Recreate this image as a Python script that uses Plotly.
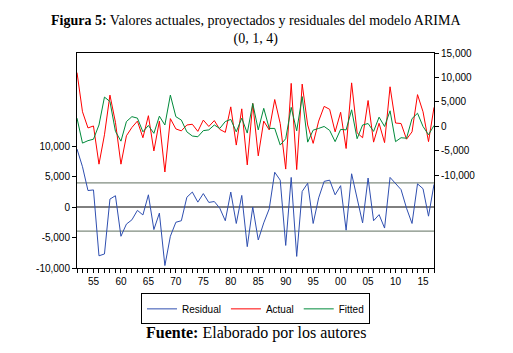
import plotly.graph_objects as go

years = list(range(1952, 2018))

residual = [9500, 6600, 2700, 2800, -8000, -7700, 1300, 1850, -4800, -2800,
            -2100, -550, -1300, 2000, -3700, -1000, -9600, -4800, -2500, -2250,
            1600, 2450, 800, 2200, 750, 900, -200, -2250, 2450, -2700,
            1900, -6500, 0, -5400, -2600, -300, 5700, 4400, -6300, 4850,
            -8100, 2550, 3900, -2700, 1500, 4200, 4400, 2000, 3500, -3800,
            5450, 1200, -2600, 4750, -2250, -1250, -3450, 4850, 3900, 2850,
            -200, -2700, 3800, 3000, -1500, 3700]

actual = [11000, 3000, -300, 100, -7700, -1700, 6400, 850, -7700, -1900,
          -200, 1100, -2300, 2200, -5000, 1100, -9300, 1600, -500, -900,
          300, 450, -1000, 1300, 0, 1200, -600, -1200, 4000, -3800,
          3600, -7850, 4700, -6000, 1100, -700, 5500, 600, -8700, 8800,
          -8800, 8650, 300, -3450, 1100, 4100, 3500, -1100, 2900, -4500,
          8900, -1300, -2300, 5300, -3200, 650, -3300, 8100, 700, 600,
          -2600, -1100, 6500, 3000, -3100, 3900]

fitted = [1700, -3400, -2900, -2600, 300, 6000, 5100, -1000, -3000, 1000,
          2000, 1700, -1100, 200, -1400, 2100, 300, 6400, 2000, 1300,
          -1100, -1950, -2100, -850, -700, 300, -400, 1000, 1450, -1100,
          1700, -1350, 4700, -700, 3700, -400, -400, -3800, -2500, 3900,
          -900, 6100, -3200, -750, -400, 0, -800, -3100, -600, -700,
          3400, -2500, 300, 600, -1000, 1900, 0, 3200, -3100, -2300,
          -2400, 1600, 2700, 0, -1700, 200]

resid_std = 3950

left_tickvals = [-10000, -5000, 0, 5000, 10000]
left_ticktext = ["-10,000", "-5,000", "0", "5,000", "10,000"]
right_tickvals = [-10000, -5000, 0, 5000, 10000, 15000]
right_ticktext = ["-10,000", "-5,000", "0", "5,000", "10,000", "15,000"]
x_ticktext = [str(y)[2:] if y % 5 == 0 else "" for y in years]

tick_font = dict(family="Liberation Sans, Arial, sans-serif", size=10, color="black")

fig = go.Figure()
fig.add_trace(go.Scatter(x=years, y=residual, name="Residual", mode="lines",
                         line=dict(color="#2F4FB0", width=1), yaxis="y"))
fig.add_trace(go.Scatter(x=years, y=actual, name="Actual", mode="lines",
                         line=dict(color="#FF0000", width=1), yaxis="y2"))
fig.add_trace(go.Scatter(x=years, y=fitted, name="Fitted", mode="lines",
                         line=dict(color="#008A3A", width=1), yaxis="y2"))

# zero line and +/- one standard error band for residuals
for val, col in [(0, "black"), (resid_std, "#5F6F5F"), (-resid_std, "#5F6F5F")]:
    fig.add_shape(type="line", xref="paper", x0=0, x1=1, yref="y", y0=val, y1=val,
                  line=dict(color=col, width=1), layer="below")

# page body has an 8px margin: figure is sized/offset to compensate
fig.update_layout(
    width=505, height=345,
    margin=dict(l=69, r=79, t=45, b=85),
    paper_bgcolor="white", plot_bgcolor="white",
    showlegend=True,
    legend=dict(orientation="h", x=0.5, xanchor="center", y=-0.118, yanchor="top",
                bordercolor="black", borderwidth=1, font=tick_font,
                itemwidth=30, tracegroupgap=0, itemclick=False,
                entrywidth=0),
    xaxis=dict(range=[1952, 2017], tickvals=years, ticktext=x_ticktext,
               ticks="outside", ticklen=4, tickcolor="black", showgrid=False,
               zeroline=False, showline=True, linecolor="black", linewidth=1,
               mirror=True, tickfont=tick_font, tickangle=0),
    yaxis=dict(range=[-10000, 25250], tickvals=left_tickvals, ticktext=left_ticktext,
               ticks="outside", ticklen=4, tickcolor="black", showgrid=False,
               zeroline=False, showline=True, linecolor="black", linewidth=1,
               tickfont=tick_font),
    yaxis2=dict(range=[-28900, 15000], tickvals=right_tickvals, ticktext=right_ticktext,
                overlaying="y", side="right", ticks="outside", ticklen=4,
                tickcolor="black", showgrid=False, zeroline=False, showline=True,
                linecolor="black", linewidth=1, tickfont=tick_font),
)

serif = "Liberation Serif, Times New Roman, serif"
fig.add_annotation(xref="paper", yref="paper", x=0.5, y=1, yshift=4, xanchor="center",
                   yanchor="bottom", showarrow=False, align="center",
                   text="<b>Figura 5:</b> Valores actuales, proyectados y residuales del modelo ARIMA<br>(0, 1, 4)",
                   font=dict(family=serif, size=14, color="black"))
fig.add_annotation(xref="paper", yref="paper", x=0.5, y=0, yshift=-54, xanchor="center",
                   yanchor="top", showarrow=False,
                   text="<b>Fuente:</b> Elaborado por los autores",
                   font=dict(family=serif, size=16, color="black"))

fig.write_html("out.html")
